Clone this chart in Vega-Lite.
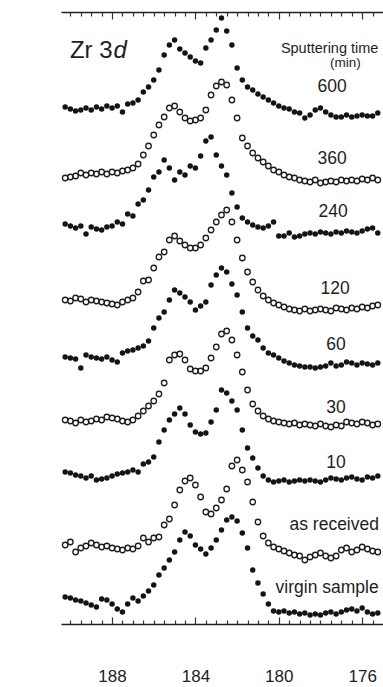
{
"$schema":"https://vega.github.io/schema/vega-lite/v6.json",
"width":322,"height":612,
"autosize":{"type":"none"},
"padding":{"left":61,"top":12,"right":0,"bottom":63},
"background":"white",
"config":{"view":{"stroke":null},"font":"Liberation Sans"},
"datasets":{
"spec":[
{"s":"600","e":190.25,"v":517},{"s":"600","e":190,"v":515},{"s":"600","e":189.75,"v":513},{"s":"600","e":189.5,"v":514},{"s":"600","e":189.25,"v":516},{"s":"600","e":189,"v":514},{"s":"600","e":188.75,"v":517},{"s":"600","e":188.5,"v":515},{"s":"600","e":188.25,"v":518},{"s":"600","e":188,"v":516},
{"s":"600","e":187.75,"v":518},{"s":"600","e":187.5,"v":512},{"s":"600","e":187.25,"v":520},{"s":"600","e":187,"v":521},{"s":"600","e":186.75,"v":524},{"s":"600","e":186.5,"v":532},{"s":"600","e":186.25,"v":537},{"s":"600","e":186,"v":544},{"s":"600","e":185.75,"v":554},{"s":"600","e":185.5,"v":569},
{"s":"600","e":185.25,"v":579},{"s":"600","e":185,"v":584},{"s":"600","e":184.75,"v":575},{"s":"600","e":184.5,"v":571},{"s":"600","e":184.25,"v":567},{"s":"600","e":184,"v":563},{"s":"600","e":183.75,"v":561},{"s":"600","e":183.5,"v":576},{"s":"600","e":183.25,"v":584},{"s":"600","e":183,"v":594},
{"s":"600","e":182.75,"v":606},{"s":"600","e":182.5,"v":593},{"s":"600","e":182.25,"v":579},{"s":"600","e":182,"v":556},{"s":"600","e":181.75,"v":544},{"s":"600","e":181.5,"v":537},{"s":"600","e":181.25,"v":534},{"s":"600","e":181,"v":530},{"s":"600","e":180.75,"v":527},{"s":"600","e":180.5,"v":524},
{"s":"600","e":180.25,"v":521},{"s":"600","e":180,"v":518},{"s":"600","e":179.75,"v":516},{"s":"600","e":179.5,"v":515},{"s":"600","e":179.25,"v":512},{"s":"600","e":179,"v":511},{"s":"600","e":178.75,"v":506},{"s":"600","e":178.5,"v":509},{"s":"600","e":178.25,"v":514},{"s":"600","e":178,"v":516},
{"s":"600","e":177.75,"v":512},{"s":"600","e":177.5,"v":509},{"s":"600","e":177.25,"v":507},{"s":"600","e":177,"v":507},{"s":"600","e":176.75,"v":509},{"s":"600","e":176.5,"v":507},{"s":"600","e":176.25,"v":508},{"s":"600","e":176,"v":509},{"s":"600","e":175.75,"v":508},{"s":"600","e":175.5,"v":508},{"s":"600","e":175.25,"v":511},

{"s":"360","e":190.25,"v":446},{"s":"360","e":190,"v":447},{"s":"360","e":189.75,"v":448},{"s":"360","e":189.5,"v":451},{"s":"360","e":189.25,"v":449},{"s":"360","e":189,"v":451},{"s":"360","e":188.75,"v":450},{"s":"360","e":188.5,"v":452},{"s":"360","e":188.25,"v":450},{"s":"360","e":188,"v":452},
{"s":"360","e":187.75,"v":451},{"s":"360","e":187.5,"v":453},{"s":"360","e":187.25,"v":454},{"s":"360","e":187,"v":456},{"s":"360","e":186.75,"v":460},{"s":"360","e":186.5,"v":469},{"s":"360","e":186.25,"v":478},{"s":"360","e":186,"v":489},{"s":"360","e":185.75,"v":499},{"s":"360","e":185.5,"v":507},
{"s":"360","e":185.25,"v":516},{"s":"360","e":185,"v":518},{"s":"360","e":184.75,"v":512},{"s":"360","e":184.5,"v":506},{"s":"360","e":184.25,"v":503},{"s":"360","e":184,"v":504},{"s":"360","e":183.75,"v":506},{"s":"360","e":183.5,"v":514},{"s":"360","e":183.25,"v":529},{"s":"360","e":183,"v":538},
{"s":"360","e":182.75,"v":542},{"s":"360","e":182.5,"v":539},{"s":"360","e":182.25,"v":524},{"s":"360","e":182,"v":506},{"s":"360","e":181.75,"v":486},{"s":"360","e":181.5,"v":478},{"s":"360","e":181.25,"v":471},{"s":"360","e":181,"v":466},{"s":"360","e":180.75,"v":462},{"s":"360","e":180.5,"v":458},
{"s":"360","e":180.25,"v":454},{"s":"360","e":180,"v":452},{"s":"360","e":179.75,"v":449},{"s":"360","e":179.5,"v":447},{"s":"360","e":179.25,"v":446},{"s":"360","e":179,"v":444},{"s":"360","e":178.75,"v":443},{"s":"360","e":178.5,"v":442},{"s":"360","e":178.25,"v":444},{"s":"360","e":178,"v":441},
{"s":"360","e":177.75,"v":442},{"s":"360","e":177.5,"v":443},{"s":"360","e":177.25,"v":442},{"s":"360","e":177,"v":444},{"s":"360","e":176.75,"v":443},{"s":"360","e":176.5,"v":444},{"s":"360","e":176.25,"v":443},{"s":"360","e":176,"v":445},{"s":"360","e":175.75,"v":444},{"s":"360","e":175.5,"v":446},{"s":"360","e":175.25,"v":444},

{"s":"240","e":190.25,"v":400},{"s":"240","e":190,"v":398},{"s":"240","e":189.75,"v":396},{"s":"240","e":189.5,"v":398},{"s":"240","e":189.25,"v":390},{"s":"240","e":189,"v":397},{"s":"240","e":188.75,"v":395},{"s":"240","e":188.5,"v":394},{"s":"240","e":188.25,"v":397},{"s":"240","e":188,"v":398},
{"s":"240","e":187.75,"v":402},{"s":"240","e":187.5,"v":400},{"s":"240","e":187.25,"v":410},{"s":"240","e":187,"v":408},{"s":"240","e":186.75,"v":420},{"s":"240","e":186.5,"v":424},{"s":"240","e":186.25,"v":434},{"s":"240","e":186,"v":447},{"s":"240","e":185.75,"v":452},{"s":"240","e":185.5,"v":464},
{"s":"240","e":185.25,"v":456},{"s":"240","e":185,"v":444},{"s":"240","e":184.75,"v":452},{"s":"240","e":184.5,"v":449},{"s":"240","e":184.25,"v":458},{"s":"240","e":184,"v":456},{"s":"240","e":183.75,"v":468},{"s":"240","e":183.5,"v":483},{"s":"240","e":183.25,"v":487},{"s":"240","e":183,"v":469},
{"s":"240","e":182.75,"v":458},{"s":"240","e":182.5,"v":449},{"s":"240","e":182.25,"v":431},{"s":"240","e":182,"v":417},{"s":"240","e":181.75,"v":406},{"s":"240","e":181.5,"v":402},{"s":"240","e":181.25,"v":399},{"s":"240","e":181,"v":397},{"s":"240","e":180.75,"v":396},{"s":"240","e":180.5,"v":398},
{"s":"240","e":180.25,"v":402},{"s":"240","e":180,"v":388},{"s":"240","e":179.75,"v":388},{"s":"240","e":179.5,"v":391},{"s":"240","e":179.25,"v":387},{"s":"240","e":179,"v":388},{"s":"240","e":178.75,"v":390},{"s":"240","e":178.5,"v":391},{"s":"240","e":178.25,"v":390},{"s":"240","e":178,"v":392},
{"s":"240","e":177.75,"v":391},{"s":"240","e":177.5,"v":390},{"s":"240","e":177.25,"v":392},{"s":"240","e":177,"v":391},{"s":"240","e":176.75,"v":393},{"s":"240","e":176.5,"v":392},{"s":"240","e":176.25,"v":391},{"s":"240","e":176,"v":393},{"s":"240","e":175.75,"v":395},{"s":"240","e":175.5,"v":396},{"s":"240","e":175.25,"v":391},

{"s":"120","e":190.25,"v":324},{"s":"120","e":190,"v":323},{"s":"120","e":189.75,"v":326},{"s":"120","e":189.5,"v":325},{"s":"120","e":189.25,"v":322},{"s":"120","e":189,"v":324},{"s":"120","e":188.75,"v":323},{"s":"120","e":188.5,"v":322},{"s":"120","e":188.25,"v":321},{"s":"120","e":188,"v":320},
{"s":"120","e":187.75,"v":319},{"s":"120","e":187.5,"v":322},{"s":"120","e":187.25,"v":324},{"s":"120","e":187,"v":326},{"s":"120","e":186.75,"v":332},{"s":"120","e":186.5,"v":343},{"s":"120","e":186.25,"v":344},{"s":"120","e":186,"v":356},{"s":"120","e":185.75,"v":367},{"s":"120","e":185.5,"v":372},
{"s":"120","e":185.25,"v":384},{"s":"120","e":185,"v":388},{"s":"120","e":184.75,"v":383},{"s":"120","e":184.5,"v":379},{"s":"120","e":184.25,"v":376},{"s":"120","e":184,"v":376},{"s":"120","e":183.75,"v":379},{"s":"120","e":183.5,"v":386},{"s":"120","e":183.25,"v":394},{"s":"120","e":183,"v":402},
{"s":"120","e":182.75,"v":409},{"s":"120","e":182.5,"v":414},{"s":"120","e":182.25,"v":402},{"s":"120","e":182,"v":384},{"s":"120","e":181.75,"v":366},{"s":"120","e":181.5,"v":352},{"s":"120","e":181.25,"v":342},{"s":"120","e":181,"v":334},{"s":"120","e":180.75,"v":328},{"s":"120","e":180.5,"v":324},
{"s":"120","e":180.25,"v":321},{"s":"120","e":180,"v":319},{"s":"120","e":179.75,"v":317},{"s":"120","e":179.5,"v":315},{"s":"120","e":179.25,"v":314},{"s":"120","e":179,"v":313},{"s":"120","e":178.75,"v":315},{"s":"120","e":178.5,"v":313},{"s":"120","e":178.25,"v":314},{"s":"120","e":178,"v":315},
{"s":"120","e":177.75,"v":314},{"s":"120","e":177.5,"v":313},{"s":"120","e":177.25,"v":316},{"s":"120","e":177,"v":315},{"s":"120","e":176.75,"v":314},{"s":"120","e":176.5,"v":316},{"s":"120","e":176.25,"v":315},{"s":"120","e":176,"v":317},{"s":"120","e":175.75,"v":316},{"s":"120","e":175.5,"v":318},{"s":"120","e":175.25,"v":319},

{"s":"60","e":190.25,"v":267},{"s":"60","e":190,"v":266},{"s":"60","e":189.75,"v":265},{"s":"60","e":189.5,"v":256},{"s":"60","e":189.25,"v":269},{"s":"60","e":189,"v":267},{"s":"60","e":188.75,"v":266},{"s":"60","e":188.5,"v":265},{"s":"60","e":188.25,"v":267},{"s":"60","e":188,"v":264},
{"s":"60","e":187.75,"v":262},{"s":"60","e":187.5,"v":271},{"s":"60","e":187.25,"v":273},{"s":"60","e":187,"v":274},{"s":"60","e":186.75,"v":276},{"s":"60","e":186.5,"v":278},{"s":"60","e":186.25,"v":283},{"s":"60","e":186,"v":296},{"s":"60","e":185.75,"v":306},{"s":"60","e":185.5,"v":312},
{"s":"60","e":185.25,"v":324},{"s":"60","e":185,"v":334},{"s":"60","e":184.75,"v":331},{"s":"60","e":184.5,"v":327},{"s":"60","e":184.25,"v":322},{"s":"60","e":184,"v":314},{"s":"60","e":183.75,"v":318},{"s":"60","e":183.5,"v":322},{"s":"60","e":183.25,"v":339},{"s":"60","e":183,"v":349},
{"s":"60","e":182.75,"v":356},{"s":"60","e":182.5,"v":352},{"s":"60","e":182.25,"v":340},{"s":"60","e":182,"v":329},{"s":"60","e":181.75,"v":312},{"s":"60","e":181.5,"v":296},{"s":"60","e":181.25,"v":288},{"s":"60","e":181,"v":284},{"s":"60","e":180.75,"v":276},{"s":"60","e":180.5,"v":271},
{"s":"60","e":180.25,"v":269},{"s":"60","e":180,"v":266},{"s":"60","e":179.75,"v":263},{"s":"60","e":179.5,"v":261},{"s":"60","e":179.25,"v":259},{"s":"60","e":179,"v":258},{"s":"60","e":178.75,"v":257},{"s":"60","e":178.5,"v":257},{"s":"60","e":178.25,"v":256},{"s":"60","e":178,"v":257},
{"s":"60","e":177.75,"v":258},{"s":"60","e":177.5,"v":261},{"s":"60","e":177.25,"v":258},{"s":"60","e":177,"v":259},{"s":"60","e":176.75,"v":262},{"s":"60","e":176.5,"v":261},{"s":"60","e":176.25,"v":259},{"s":"60","e":176,"v":261},{"s":"60","e":175.75,"v":260},{"s":"60","e":175.5,"v":259},{"s":"60","e":175.25,"v":261},

{"s":"30","e":190.25,"v":204},{"s":"30","e":190,"v":203},{"s":"30","e":189.75,"v":201},{"s":"30","e":189.5,"v":204},{"s":"30","e":189.25,"v":202},{"s":"30","e":189,"v":203},{"s":"30","e":188.75,"v":205},{"s":"30","e":188.5,"v":204},{"s":"30","e":188.25,"v":207},{"s":"30","e":188,"v":206},
{"s":"30","e":187.75,"v":205},{"s":"30","e":187.5,"v":203},{"s":"30","e":187.25,"v":202},{"s":"30","e":187,"v":204},{"s":"30","e":186.75,"v":208},{"s":"30","e":186.5,"v":213},{"s":"30","e":186.25,"v":218},{"s":"30","e":186,"v":223},{"s":"30","e":185.75,"v":230},{"s":"30","e":185.5,"v":241},
{"s":"30","e":185.25,"v":264},{"s":"30","e":185,"v":269},{"s":"30","e":184.75,"v":270},{"s":"30","e":184.5,"v":264},{"s":"30","e":184.25,"v":255},{"s":"30","e":184,"v":253},{"s":"30","e":183.75,"v":253},{"s":"30","e":183.5,"v":256},{"s":"30","e":183.25,"v":266},{"s":"30","e":183,"v":277},
{"s":"30","e":182.75,"v":290},{"s":"30","e":182.5,"v":293},{"s":"30","e":182.25,"v":284},{"s":"30","e":182,"v":269},{"s":"30","e":181.75,"v":252},{"s":"30","e":181.5,"v":234},{"s":"30","e":181.25,"v":220},{"s":"30","e":181,"v":213},{"s":"30","e":180.75,"v":208},{"s":"30","e":180.5,"v":205},
{"s":"30","e":180.25,"v":203},{"s":"30","e":180,"v":202},{"s":"30","e":179.75,"v":201},{"s":"30","e":179.5,"v":200},{"s":"30","e":179.25,"v":201},{"s":"30","e":179,"v":199},{"s":"30","e":178.75,"v":200},{"s":"30","e":178.5,"v":199},{"s":"30","e":178.25,"v":198},{"s":"30","e":178,"v":200},
{"s":"30","e":177.75,"v":198},{"s":"30","e":177.5,"v":197},{"s":"30","e":177.25,"v":199},{"s":"30","e":177,"v":198},{"s":"30","e":176.75,"v":202},{"s":"30","e":176.5,"v":201},{"s":"30","e":176.25,"v":200},{"s":"30","e":176,"v":202},{"s":"30","e":175.75,"v":201},{"s":"30","e":175.5,"v":199},{"s":"30","e":175.25,"v":200},

{"s":"10","e":190.25,"v":152},{"s":"10","e":190,"v":151},{"s":"10","e":189.75,"v":149},{"s":"10","e":189.5,"v":148},{"s":"10","e":189.25,"v":146},{"s":"10","e":189,"v":148},{"s":"10","e":188.75,"v":144},{"s":"10","e":188.5,"v":145},{"s":"10","e":188.25,"v":146},{"s":"10","e":188,"v":148},
{"s":"10","e":187.75,"v":150},{"s":"10","e":187.5,"v":151},{"s":"10","e":187.25,"v":152},{"s":"10","e":187,"v":154},{"s":"10","e":186.75,"v":152},{"s":"10","e":186.5,"v":160},{"s":"10","e":186.25,"v":162},{"s":"10","e":186,"v":167},{"s":"10","e":185.75,"v":182},{"s":"10","e":185.5,"v":194},
{"s":"10","e":185.25,"v":204},{"s":"10","e":185,"v":210},{"s":"10","e":184.75,"v":216},{"s":"10","e":184.5,"v":210},{"s":"10","e":184.25,"v":199},{"s":"10","e":184,"v":192},{"s":"10","e":183.75,"v":190},{"s":"10","e":183.5,"v":191},{"s":"10","e":183.25,"v":202},{"s":"10","e":183,"v":214},
{"s":"10","e":182.75,"v":234},{"s":"10","e":182.5,"v":231},{"s":"10","e":182.25,"v":223},{"s":"10","e":182,"v":214},{"s":"10","e":181.75,"v":194},{"s":"10","e":181.5,"v":176},{"s":"10","e":181.25,"v":166},{"s":"10","e":181,"v":156},{"s":"10","e":180.75,"v":148},{"s":"10","e":180.5,"v":144},
{"s":"10","e":180.25,"v":142},{"s":"10","e":180,"v":143},{"s":"10","e":179.75,"v":144},{"s":"10","e":179.5,"v":142},{"s":"10","e":179.25,"v":143},{"s":"10","e":179,"v":144},{"s":"10","e":178.75,"v":143},{"s":"10","e":178.5,"v":144},{"s":"10","e":178.25,"v":143},{"s":"10","e":178,"v":142},
{"s":"10","e":177.75,"v":144},{"s":"10","e":177.5,"v":146},{"s":"10","e":177.25,"v":145},{"s":"10","e":177,"v":144},{"s":"10","e":176.75,"v":146},{"s":"10","e":176.5,"v":147},{"s":"10","e":176.25,"v":145},{"s":"10","e":176,"v":144},{"s":"10","e":175.75,"v":147},{"s":"10","e":175.5,"v":146},{"s":"10","e":175.25,"v":148},

{"s":"as received","e":190.25,"v":79},{"s":"as received","e":190,"v":82},{"s":"as received","e":189.75,"v":72},{"s":"as received","e":189.5,"v":76},{"s":"as received","e":189.25,"v":78},{"s":"as received","e":189,"v":81},{"s":"as received","e":188.75,"v":79},{"s":"as received","e":188.5,"v":77},{"s":"as received","e":188.25,"v":78},{"s":"as received","e":188,"v":76},
{"s":"as received","e":187.75,"v":75},{"s":"as received","e":187.5,"v":74},{"s":"as received","e":187.25,"v":76},{"s":"as received","e":187,"v":75},{"s":"as received","e":186.75,"v":78},{"s":"as received","e":186.5,"v":86},{"s":"as received","e":186.25,"v":82},{"s":"as received","e":186,"v":86},{"s":"as received","e":185.75,"v":87},{"s":"as received","e":185.5,"v":99},
{"s":"as received","e":185.25,"v":105},{"s":"as received","e":185,"v":119},{"s":"as received","e":184.75,"v":134},{"s":"as received","e":184.5,"v":143},{"s":"as received","e":184.25,"v":146},{"s":"as received","e":184,"v":139},{"s":"as received","e":183.75,"v":127},{"s":"as received","e":183.5,"v":112},{"s":"as received","e":183.25,"v":110},{"s":"as received","e":183,"v":116},
{"s":"as received","e":182.75,"v":124},{"s":"as received","e":182.5,"v":135},{"s":"as received","e":182.25,"v":158},{"s":"as received","e":182,"v":164},{"s":"as received","e":181.75,"v":154},{"s":"as received","e":181.5,"v":142},{"s":"as received","e":181.25,"v":122},{"s":"as received","e":181,"v":102},{"s":"as received","e":180.75,"v":88},{"s":"as received","e":180.5,"v":81},
{"s":"as received","e":180.25,"v":77},{"s":"as received","e":180,"v":75},{"s":"as received","e":179.75,"v":73},{"s":"as received","e":179.5,"v":71},{"s":"as received","e":179.25,"v":69},{"s":"as received","e":179,"v":68},{"s":"as received","e":178.75,"v":64},{"s":"as received","e":178.5,"v":67},{"s":"as received","e":178.25,"v":69},{"s":"as received","e":178,"v":71},
{"s":"as received","e":177.75,"v":68},{"s":"as received","e":177.5,"v":66},{"s":"as received","e":177.25,"v":68},{"s":"as received","e":177,"v":74},{"s":"as received","e":176.75,"v":76},{"s":"as received","e":176.5,"v":72},{"s":"as received","e":176.25,"v":74},{"s":"as received","e":176,"v":77},{"s":"as received","e":175.75,"v":75},{"s":"as received","e":175.5,"v":73},{"s":"as received","e":175.25,"v":72},

{"s":"virgin","e":190.25,"v":27},{"s":"virgin","e":190,"v":26},{"s":"virgin","e":189.75,"v":24},{"s":"virgin","e":189.5,"v":23},{"s":"virgin","e":189.25,"v":21},{"s":"virgin","e":189,"v":19},{"s":"virgin","e":188.75,"v":17},{"s":"virgin","e":188.5,"v":25},{"s":"virgin","e":188.25,"v":24},{"s":"virgin","e":188,"v":20},
{"s":"virgin","e":187.75,"v":15},{"s":"virgin","e":187.5,"v":12},{"s":"virgin","e":187.25,"v":20},{"s":"virgin","e":187,"v":26},{"s":"virgin","e":186.75,"v":23},{"s":"virgin","e":186.5,"v":28},{"s":"virgin","e":186.25,"v":33},{"s":"virgin","e":186,"v":39},{"s":"virgin","e":185.75,"v":49},{"s":"virgin","e":185.5,"v":56},
{"s":"virgin","e":185.25,"v":64},{"s":"virgin","e":185,"v":72},{"s":"virgin","e":184.75,"v":84},{"s":"virgin","e":184.5,"v":92},{"s":"virgin","e":184.25,"v":88},{"s":"virgin","e":184,"v":79},{"s":"virgin","e":183.75,"v":75},{"s":"virgin","e":183.5,"v":70},{"s":"virgin","e":183.25,"v":76},{"s":"virgin","e":183,"v":84},
{"s":"virgin","e":182.75,"v":94},{"s":"virgin","e":182.5,"v":104},{"s":"virgin","e":182.25,"v":107},{"s":"virgin","e":182,"v":103},{"s":"virgin","e":181.75,"v":91},{"s":"virgin","e":181.5,"v":76},{"s":"virgin","e":181.25,"v":54},{"s":"virgin","e":181,"v":41},{"s":"virgin","e":180.75,"v":30},{"s":"virgin","e":180.5,"v":20},
{"s":"virgin","e":180.25,"v":13},{"s":"virgin","e":180,"v":12},{"s":"virgin","e":179.75,"v":13},{"s":"virgin","e":179.5,"v":11},{"s":"virgin","e":179.25,"v":12},{"s":"virgin","e":179,"v":10},{"s":"virgin","e":178.75,"v":11},{"s":"virgin","e":178.5,"v":9},{"s":"virgin","e":178.25,"v":10},{"s":"virgin","e":178,"v":9},
{"s":"virgin","e":177.75,"v":11},{"s":"virgin","e":177.5,"v":12},{"s":"virgin","e":177.25,"v":10},{"s":"virgin","e":177,"v":12},{"s":"virgin","e":176.75,"v":14},{"s":"virgin","e":176.5,"v":15},{"s":"virgin","e":176.25,"v":13},{"s":"virgin","e":176,"v":16},{"s":"virgin","e":175.75,"v":12},{"s":"virgin","e":175.5,"v":10},{"s":"virgin","e":175.25,"v":11}
],
"lab":[
{"t":"Sputtering time","e":177.56,"v":575},
{"t":"(min)","e":176.81,"v":561},
{"t":"600","e":177.44,"v":537},
{"t":"360","e":177.44,"v":465},
{"t":"240","e":177.39,"v":412},
{"t":"120","e":177.3,"v":335},
{"t":"60","e":177.25,"v":279},
{"t":"30","e":177.25,"v":216},
{"t":"10","e":177.25,"v":161},
{"t":"as received","e":177.34,"v":99},
{"t":"virgin sample","e":177.68,"v":36},
{"t":"Zr 3","e":190.02,"v":573},
{"t":"d","e":187.93,"v":573}
]
},
"layer":[
{
"data":{"name":"spec"},
"transform":[{"filter":{"field":"s","oneOf":["600","240","60","10","virgin"]}}],
"mark":{"type":"point","shape":"circle","filled":true,"size":30,"color":"#141414","opacity":1},
"encoding":{
"x":{"field":"e","type":"quantitative","scale":{"domain":[175,190.45],"reverse":true,"nice":false,"zero":false},
"axis":{"orient":"bottom","title":"Binding Energy (eV)","values":[175.5,176,176.5,177,177.5,178,178.5,179,179.5,180,180.5,181,181.5,182,182.5,183,183.5,184,184.5,185,185.5,186,186.5,187,187.5,188,188.5,189,189.5,190],
"labelExpr":"datum.value % 4 === 0 ? datum.value : ''",
"tickSize":{"condition":{"test":"datum.value % 4 === 0","value":-7},"value":-4},
"tickColor":"#333","tickWidth":1.2,"domainColor":"#222","domainWidth":1.5,"grid":false,
"labelFontSize":17,"labelColor":"#222","labelPadding":51,"labelFlush":false,"labelOverlap":false,
"titleFontSize":18,"titleFontWeight":"normal","titleColor":"#222","titlePadding":8}},
"y":{"field":"v","type":"quantitative","scale":{"domain":[0,612],"nice":false,"zero":false},
"axis":{"orient":"left","title":"Intensity (arb. units)","domain":true,"labels":false,"ticks":false,"grid":false,"domainColor":"#333","domainWidth":1.5,
"titleFontSize":18,"titleFontWeight":"normal","titleColor":"#222","titlePadding":25}}
}
},
{
"data":{"name":"spec"},
"transform":[{"filter":{"field":"s","oneOf":["360","120","30","as received"]}}],
"mark":{"type":"point","shape":"circle","filled":false,"size":30,"strokeWidth":1.3,"color":"#1e1e1e","opacity":1},
"encoding":{
"x":{"field":"e","type":"quantitative",
"axis":{"orient":"top","title":null,"labels":false,"values":[175.5,176,176.5,177,177.5,178,178.5,179,179.5,180,180.5,181,181.5,182,182.5,183,183.5,184,184.5,185,185.5,186,186.5,187,187.5,188,188.5,189,189.5,190],
"tickSize":{"condition":{"test":"datum.value % 4 === 0","value":-7},"value":-4},
"tickColor":"#333","tickWidth":1.2,"domainColor":"#222","domainWidth":1.5,"grid":false}},
"y":{"field":"v","type":"quantitative","axis":{"orient":"left","title":"Intensity (arb. units)","domain":true,"labels":false,"ticks":false,"grid":false,"domainColor":"#333","domainWidth":1.5,
"titleFontSize":18,"titleFontWeight":"normal","titleColor":"#222","titlePadding":25}}
}
},
{
"data":{"name":"lab"},
"transform":[{"filter":{"field":"t","oneOf":["600","360","240","120","60","30","10","as received","virgin sample"]}}],
"mark":{"type":"text","fontSize":17.5,"align":"center","baseline":"middle","color":"#1e1e1e"},
"encoding":{"x":{"field":"e","type":"quantitative","axis":null},"y":{"field":"v","type":"quantitative","axis":null},"text":{"field":"t"}}
},
{
"data":{"name":"lab"},
"transform":[{"filter":{"field":"t","equal":"Sputtering time"}}],
"mark":{"type":"text","fontSize":14.5,"align":"center","baseline":"middle","color":"#1e1e1e"},
"encoding":{"x":{"field":"e","type":"quantitative","axis":null},"y":{"field":"v","type":"quantitative","axis":null},"text":{"field":"t"}}
},
{
"data":{"name":"lab"},
"transform":[{"filter":{"field":"t","equal":"(min)"}}],
"mark":{"type":"text","fontSize":13.5,"align":"center","baseline":"middle","color":"#1e1e1e"},
"encoding":{"x":{"field":"e","type":"quantitative","axis":null},"y":{"field":"v","type":"quantitative","axis":null},"text":{"field":"t"}}
},
{
"data":{"name":"lab"},
"transform":[{"filter":{"field":"t","equal":"Zr 3"}}],
"mark":{"type":"text","fontSize":24,"align":"left","baseline":"middle","color":"#1e1e1e"},
"encoding":{"x":{"field":"e","type":"quantitative","axis":null},"y":{"field":"v","type":"quantitative","axis":null},"text":{"field":"t"}}
},
{
"data":{"name":"lab"},
"transform":[{"filter":{"field":"t","equal":"d"}}],
"mark":{"type":"text","fontSize":24,"fontStyle":"italic","align":"left","baseline":"middle","color":"#1e1e1e"},
"encoding":{"x":{"field":"e","type":"quantitative","axis":null},"y":{"field":"v","type":"quantitative","axis":null},"text":{"field":"t"}}
}
]
}
